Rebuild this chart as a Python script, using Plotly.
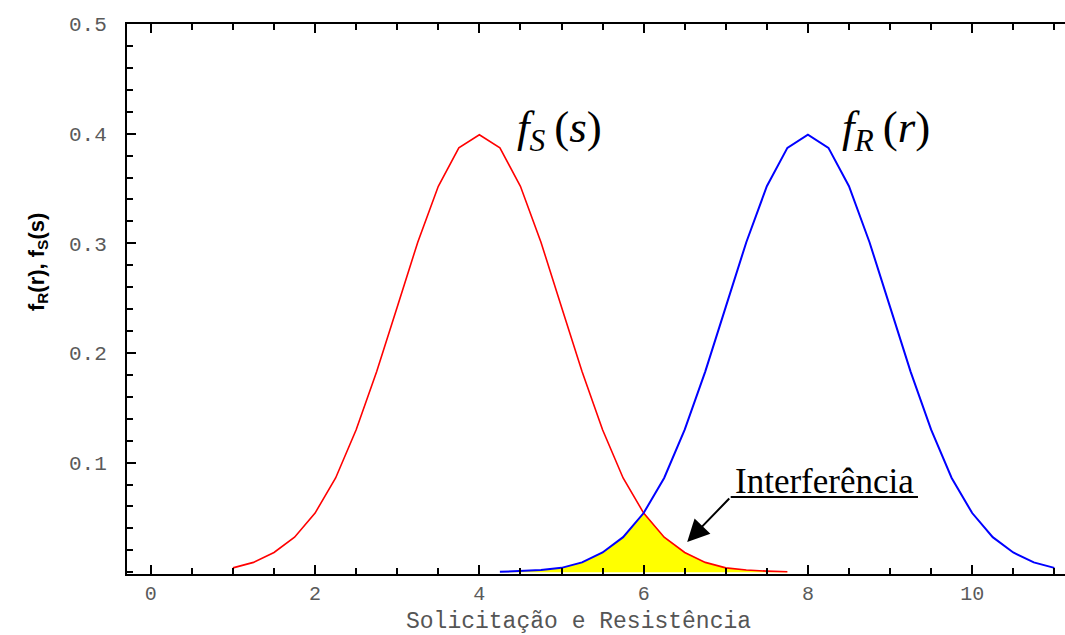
import numpy as np
import pandas as pd
import plotly.graph_objects as go

# --- data ---
s_x = [1.0, 1.25, 1.5, 1.75, 2.0, 2.25, 2.5, 2.75, 3.0, 3.25, 3.5, 3.75, 4.0,
       4.25, 4.5, 4.75, 5.0, 5.25, 5.5, 5.75, 6.0, 6.25, 6.5, 6.75, 7.0, 7.25, 7.5, 7.75]
s_y = [0.004, 0.009, 0.018, 0.032, 0.054, 0.086, 0.130, 0.183, 0.242, 0.301, 0.352, 0.387, 0.399,
       0.387, 0.352, 0.301, 0.242, 0.183, 0.130, 0.086, 0.054, 0.032, 0.018, 0.009, 0.004, 0.002, 0.001, 0.0004]

r_x = [4.25, 4.5, 4.75, 5.0, 5.25, 5.5, 5.75, 6.0, 6.25, 6.5, 6.75, 7.0, 7.25, 7.5, 7.75, 8.0,
       8.25, 8.5, 8.75, 9.0, 9.25, 9.5, 9.75, 10.0, 10.25, 10.5, 10.75, 11.0]
r_y = [0.0004, 0.001, 0.002, 0.004, 0.009, 0.018, 0.032, 0.054, 0.086, 0.130, 0.183, 0.242, 0.301, 0.352, 0.387, 0.399,
       0.387, 0.352, 0.301, 0.242, 0.183, 0.130, 0.086, 0.054, 0.032, 0.018, 0.009, 0.004]

x_ticks = [0, 2, 4, 6, 8, 10]
y_ticks = [0.1, 0.2, 0.3, 0.4, 0.5]
y_tick_labels = ["0.1", "0.2", "0.3", "0.4", "0.5"]

# interference region = overlap of both densities
df = pd.merge(pd.DataFrame({"x": s_x, "s": s_y}), pd.DataFrame({"x": r_x, "r": r_y}), on="x")
df["m"] = np.minimum(df["s"], df["r"])

fig = go.Figure()
fig.add_trace(go.Scatter(x=df["x"], y=df["m"], mode="lines", line=dict(width=0, color="#ffff00"),
                         fill="tozeroy", fillcolor="#ffff00", showlegend=False, hoverinfo="skip"))
fig.add_trace(go.Scatter(x=s_x, y=s_y, mode="lines", line=dict(color="#ff0000", width=1.6), showlegend=False))
fig.add_trace(go.Scatter(x=r_x, y=r_y, mode="lines", line=dict(color="#0000ff", width=2), showlegend=False))

tickfont = dict(family="Liberation Mono", size=21, color="#5a5a5a")
fig.update_xaxes(range=[-0.29, 11.13], tickvals=x_ticks, ticks="inside", ticklen=9, tickwidth=2,
                 tickcolor="black", showline=True, linewidth=2, linecolor="black", mirror="ticks",
                 showgrid=False, zeroline=False, tickfont=dict(family="Liberation Mono", size=20, color="#5a5a5a"),
                 ticklabelstandoff=0,
                 minor=dict(dtick=0.5, tick0=0, ticks="inside", ticklen=6, tickwidth=1.5, tickcolor="black", showgrid=False))
fig.update_yaxes(range=[-0.0016, 0.5], tickvals=y_ticks, ticktext=y_tick_labels, ticks="inside", ticklen=9,
                 tickwidth=2, tickcolor="black", showline=True, linewidth=2, linecolor="black", mirror=False,
                 showgrid=False, zeroline=False, tickfont=tickfont, ticklabelstandoff=14,
                 minor=dict(dtick=0.02, tick0=0, ticks="inside", ticklen=6, tickwidth=1.5, tickcolor="black", showgrid=False))

serif = "Liberation Serif"
fig.add_annotation(x=4.98, y=0.403, xref="x", yref="y", showarrow=False,
                   text="<i>f</i><sub><i>S</i></sub>&#8201;(<i>s</i>)", font=dict(family=serif, size=45, color="black"))
fig.add_annotation(x=8.95, y=0.403, xref="x", yref="y", showarrow=False,
                   text="<i>f</i><sub><i>R</i></sub>&#8201;(<i>r</i>)", font=dict(family=serif, size=45, color="black"))
fig.add_annotation(x=8.2, y=0.083, xref="x", yref="y", showarrow=False,
                   text="Interferência", font=dict(family=serif, size=35, color="black"))
fig.add_shape(type="line", x0=7.06, y0=0.0686, x1=9.34, y1=0.0686, xref="x", yref="y",
              line=dict(color="black", width=2))
fig.add_annotation(x=6.53, y=0.0276, ax=7.06, ay=0.0686, xref="x", yref="y", axref="x", ayref="y",
                   text="", showarrow=True, arrowhead=2, arrowsize=2.2, arrowwidth=2, arrowcolor="black")

fig.add_annotation(x=0.481, y=-0.087, xref="paper", yref="paper", showarrow=False,
                   text="Solicitação e Resistência",
                   font=dict(family="Liberation Mono", size=23, color="#555555"), yanchor="middle")
fig.add_annotation(x=-0.112, y=0.567, xref="paper", yref="paper", showarrow=False, textangle=-90,
                   text="<b>f<sub>R</sub>(r), f<sub>S</sub>(s)</b>",
                   font=dict(family="Liberation Sans", size=22, color="black"))

fig.update_layout(width=1065, height=635, margin=dict(l=127, r=0, t=24, b=61),
                  paper_bgcolor="white", plot_bgcolor="white")
fig.write_html("out.html")
